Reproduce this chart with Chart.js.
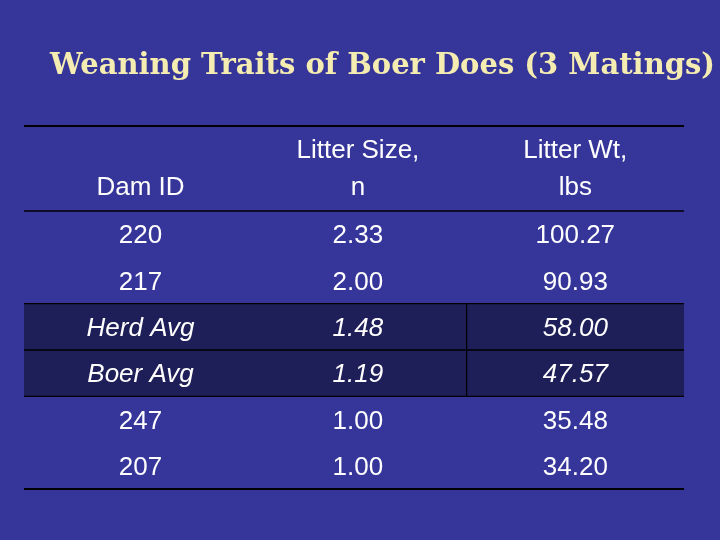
<!DOCTYPE html>
<html><head><meta charset="utf-8">
<script src="https://cdn.jsdelivr.net/npm/chart.js@4"></script>
<style>html,body{margin:0;padding:0;background:#36369a;}</style>
</head><body>
<canvas id="c" width="720" height="540"></canvas>
<script>
const title = 'Weaning Traits of Boer Does (3 Matings)';
const headers = [['Dam ID'], ['Litter Size,', 'n'], ['Litter Wt,', 'lbs']];
const damIds = ['220', '217', 'Herd Avg', 'Boer Avg', '247', '207'];
const litterSize = ['2.33', '2.00', '1.48', '1.19', '1.00', '1.00'];
const litterWt = ['100.27', '90.93', '58.00', '47.57', '35.48', '34.20'];
const highlighted = [false, false, true, true, false, false];

const columns = [damIds, litterSize, litterWt];
const xMin = -0.036;
const bandData = highlighted.map(h => h ? [xMin, 3] : null);
const FONT = '"Liberation Sans", Arial, Helvetica, sans-serif';

const tablePlugin = {
  id: 'table',
  afterDatasetsDraw(chart) {
    const ctx = chart.ctx, x = chart.scales.x, y = chart.scales.y, ca = chart.chartArea;
    ctx.save();
    ctx.fillStyle = '#f4ecb0';
    ctx.font = 'bold 29px "DejaVu Serif"';
    ctx.textAlign = 'left'; ctx.textBaseline = 'middle';
    ctx.fillText(title, 50, 66);
    ctx.strokeStyle = '#000'; ctx.lineWidth = 2;
    const line = (x0, y0, x1, y1) => { ctx.beginPath(); ctx.moveTo(x0, y0); ctx.lineTo(x1, y1); ctx.stroke(); };
    line(ca.left, 126, ca.right, 126);
    ctx.lineWidth = 1.5;
    line(ca.left, ca.top, ca.right, ca.top);
    ctx.lineWidth = 2;
    line(ca.left, ca.bottom, ca.right, ca.bottom);
    ctx.lineWidth = 1.2;
    const rowH = y.getPixelForValue(1) - y.getPixelForValue(0);
    highlighted.forEach((h, i) => {
      if (!h) return;
      const yc = y.getPixelForValue(i);
      line(ca.left, yc - rowH / 2, ca.right, yc - rowH / 2);
      line(ca.left, yc + rowH / 2, ca.right, yc + rowH / 2);
      line(x.getPixelForValue(2), yc - rowH / 2, x.getPixelForValue(2), yc + rowH / 2);
    });
    ctx.fillStyle = '#fff'; ctx.textAlign = 'center';
    ctx.font = '26px ' + FONT;
    headers.forEach((hl, c) => {
      const xc = x.getPixelForValue(c + 0.5);
      hl.forEach((t, k) => {
        const yy = hl.length === 1 ? 188 : 151 + k * 37;
        ctx.fillText(t, xc, yy);
      });
    });
    columns.forEach((col, c) => {
      const xc = x.getPixelForValue(c + 0.5);
      col.forEach((t, r) => {
        ctx.font = (highlighted[r] ? 'italic ' : '') + '26px ' + FONT;
        ctx.fillText(t, xc, y.getPixelForValue(r) + 2);
      });
    });
    ctx.restore();
  }
};

new Chart(document.getElementById('c'), {
  type: 'bar',
  data: {
    labels: damIds,
    datasets: [{ data: bandData, backgroundColor: '#1e1e58', barPercentage: 1, categoryPercentage: 1 }]
  },
  options: {
    indexAxis: 'y',
    responsive: false, animation: false,
    layout: { padding: { left: 24, right: 36, top: 211, bottom: 51 } },
    plugins: { legend: { display: false }, tooltip: { enabled: false } },
    scales: {
      x: { type: 'linear', min: xMin, max: 3, display: false },
      y: { type: 'category', display: false, offset: true }
    }
  },
  plugins: [tablePlugin]
});
</script>
</body></html>
